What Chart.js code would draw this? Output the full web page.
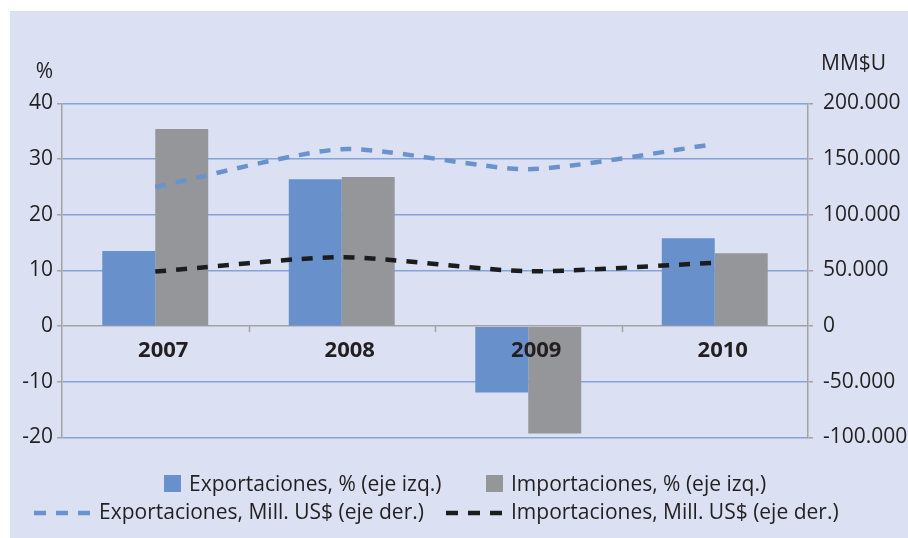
<!DOCTYPE html>
<html>
<head>
<meta charset="utf-8">
<script src="https://cdn.jsdelivr.net/npm/chart.js@4"></script>
<style>
  body { margin: 0; background: #ffffff; }
  #wrap { position: relative; width: 908px; height: 538px; }
  #panel { position: absolute; left: 10px; top: 11px; right: 0; bottom: 0; background: #dbe1f2; }
  #myChart { position: absolute; left: 0; top: 0; }
</style>
</head>
<body>
<div id="wrap">
  <div id="panel"></div>
  <canvas id="myChart" width="908" height="538"></canvas>
</div>
<script>
const years = ['2007', '2008', '2009', '2010'];
// variación anual, % (eje izquierdo)
const exportPct = [13.5, 26.4, -11.9, 15.8];
const importPct = [35.4, 26.8, -19.3, 13.1];
// millones de US$ (eje derecho)
const exportMill = [125000, 159000, 141000, 163500];
const importMill = [49000, 62000, 49300, 57000];
const leftTicks = [-20, -10, 0, 10, 20, 30, 40];
const rightTicks = [-100000, -50000, 0, 50000, 100000, 150000, 200000];

const FONT = '"Open Sans", "Noto Sans", sans-serif';
const TEXT = '#231f20';
const AXIS = '#a3a3a3';
const GRID = '#84a3d8';

// miles con punto: 150000 -> 150.000
const fmt = v => {
    const s = String(Math.abs(v)).replace(/\B(?=(\d{3})+(?!\d))/g, '.');
    return (v < 0 ? '-' : '') + s;
};

// where each legend entry sits (row 0 or 1, x of the symbol)
const legendSpots = [
    { row: 0, x: 164 },
    { row: 0, x: 486 },
    { row: 1, x: 34 },
    { row: 1, x: 446 }
];

const extras = {
    id: 'extras',
    afterDraw(chart) {
        const c = chart.ctx;
        const xs = chart.scales.x;
        const ys = chart.scales.y;
        const y0 = ys.getPixelForValue(0);
        c.save();

        // tick marks under the zero line, between categories
        c.strokeStyle = AXIS;
        c.lineWidth = 1.5;
        const step = (xs.right - xs.left) / years.length;
        for (let i = 1; i < years.length; i++) {
            const x = Math.round(xs.left + i * step) + 0.5;
            c.beginPath();
            c.moveTo(x, y0);
            c.lineTo(x, y0 + 6);
            c.stroke();
        }

        // year labels just under the zero line
        c.fillStyle = TEXT;
        c.font = 'bold 22px ' + FONT;
        c.textAlign = 'center';
        c.textBaseline = 'middle';
        years.forEach((yr, i) => {
            c.fillText(yr, xs.getPixelForValue(i) + 8, y0 + 25);
        });

        // axis units
        c.font = '21px ' + FONT;
        c.textAlign = 'right';
        c.fillText('%', 53, 72);
        c.textAlign = 'left';
        c.fillText('MM$U', 821, 64);

        // legend
        const rowBase = [491, 519];
        c.textBaseline = 'alphabetic';
        chart.data.datasets.forEach((ds, i) => {
            const spot = legendSpots[i];
            const base = rowBase[spot.row];
            let tx;
            if (ds.type === 'line') {
                c.strokeStyle = ds.borderColor;
                c.lineWidth = 4.5;
                c.setLineDash([12, 10]);
                c.beginPath();
                c.moveTo(spot.x, base - 6);
                c.lineTo(spot.x + 56, base - 6);
                c.stroke();
                c.setLineDash([]);
                tx = spot.x + 65;
            } else {
                c.fillStyle = ds.backgroundColor;
                c.fillRect(spot.x, base - 16, 17, 17);
                tx = spot.x + 25;
            }
            c.fillStyle = TEXT;
            c.font = '21px ' + FONT;
            c.textAlign = 'left';
            c.fillText(ds.label, tx, base);
        });
        c.restore();
    }
};

const ctx = document.getElementById('myChart').getContext('2d');
const myChart = new Chart(ctx, {
    type: 'bar',
    data: {
        labels: years,
        datasets: [{
            label: 'Exportaciones, % (eje izq.)',
            data: exportPct,
            backgroundColor: '#6890ca',
            yAxisID: 'y',
            order: 2
        }, {
            label: 'Importaciones, % (eje izq.)',
            data: importPct,
            backgroundColor: '#959699',
            yAxisID: 'y',
            order: 2
        }, {
            type: 'line',
            label: 'Exportaciones, Mill. US$ (eje der.)',
            data: exportMill,
            borderColor: '#6a93cd',
            borderWidth: 4.5,
            borderDash: [11, 10],
            pointRadius: 0,
            tension: 0.22,
            yAxisID: 'y2',
            order: 1
        }, {
            type: 'line',
            label: 'Importaciones, Mill. US$ (eje der.)',
            data: importMill,
            borderColor: '#1c1c1c',
            borderWidth: 4.5,
            borderDash: [11, 10],
            pointRadius: 0,
            tension: 0.22,
            yAxisID: 'y2',
            order: 1
        }]
    },
    options: {
        responsive: false,
        animation: false,
        devicePixelRatio: 1,
        layout: { padding: { left: 10, top: 103.5, right: 0, bottom: 100.5 } },
        datasets: {
            bar: { barPercentage: 1, categoryPercentage: 0.568, borderWidth: 0 }
        },
        plugins: {
            legend: { display: false },
            tooltip: { enabled: false }
        },
        scales: {
            x: { display: false },
            y: {
                position: 'left',
                min: -20,
                max: 40,
                afterBuildTicks: scale => { scale.ticks = leftTicks.map(v => ({ value: v })); },
                afterFit: scale => { scale.width = 52; },
                ticks: {
                    font: { family: FONT, size: 21 },
                    color: TEXT,
                    padding: 4
                },
                grid: {
                    color: c => (c.tick && c.tick.value === 0 ? AXIS : GRID),
                    lineWidth: 1.5,
                    tickLength: 5,
                    tickColor: AXIS
                },
                border: { color: AXIS, width: 1.5 }
            },
            y2: {
                position: 'right',
                min: -100000,
                max: 200000,
                afterBuildTicks: scale => { scale.ticks = rightTicks.map(v => ({ value: v })); },
                afterFit: scale => { scale.width = 100; },
                ticks: {
                    font: { family: FONT, size: 21 },
                    color: TEXT,
                    padding: 10,
                    callback: v => fmt(v)
                },
                grid: {
                    drawOnChartArea: false,
                    tickLength: 5,
                    tickColor: AXIS,
                    lineWidth: 1.5
                },
                border: { color: AXIS, width: 1.5 }
            }
        }
    },
    plugins: [extras]
});
</script>
</body>
</html>
